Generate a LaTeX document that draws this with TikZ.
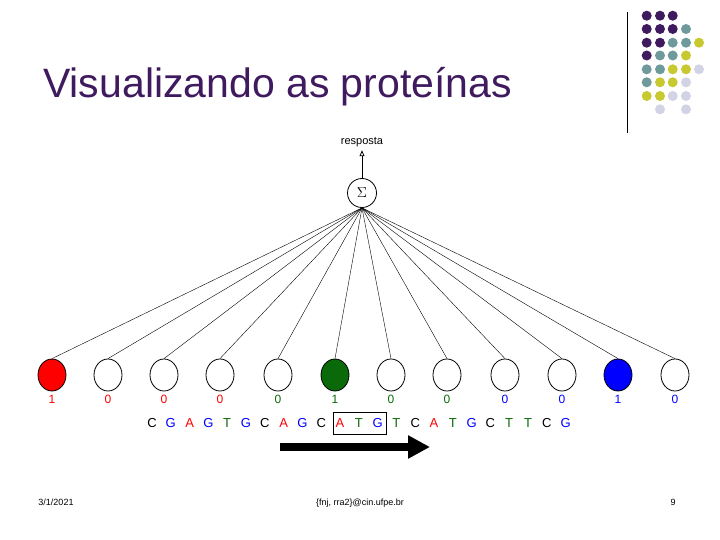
\documentclass[tikz,border=0pt]{standalone}
\usepackage{fontspec}
\setmainfont{Liberation Sans}
\usetikzlibrary{arrows.meta,shapes.geometric}
\definecolor{pP}{HTML}{3F1A5E}
\definecolor{pT}{HTML}{6F9A9C}
\definecolor{pY}{HTML}{C8C830}
\definecolor{pL}{HTML}{D3D3E6}
\definecolor{dgreen}{HTML}{0A6A0A}
\begin{document}
\begin{tikzpicture}[x=1pt,y=-1pt,
  dot/.style={circle,inner sep=0pt,minimum size=10pt},
  unit/.style={ellipse,draw,thick,inner sep=0pt,minimum width=28pt,minimum height=32pt},
  lab/.style={font=\fontsize{12}{12}\selectfont},
  seq/.style={font=\fontsize{13}{13}\selectfont},
  foot/.style={font=\fontsize{9}{9}\selectfont,anchor=base}]
\useasboundingbox (0,0) rectangle (720,540);
\fill[white] (0,0) rectangle (720,540);
% logo
\draw[thick] (627,12) -- (627,133);
\def\cols{{646.7,660,672.7,686,699}}
\def\rows{{15.7,29,42.7,55.5,69.3,82.3,96,109.3}}
\foreach \r/\list in {0/{pP,pP,pP},1/{pP,pP,pP,pT},2/{pP,pP,pT,pT,pY},3/{pP,pT,pT,pY},4/{pT,pT,pY,pY,pL},5/{pT,pY,pY,pL},6/{pY,pY,pL,pL},7/{white,pL,white,pL}}{
  \foreach \c [count=\i from 0] in \list {
    \node[dot,fill=\c] (d\r-\i) at ({\cols[\i]},{\rows[\r]}) {};
  }
}
\node[anchor=west,text=pP,font=\fontsize{41}{41}\selectfont,inner sep=0pt] (title) at (43,87) {Visualizando as proteínas};
% network
\node[circle,draw,thick,minimum size=29pt,inner sep=0pt,font=\fontsize{15}{15}\selectfont] (sig) at (362,193) {$\Sigma$};
\node[font=\fontsize{11}{11}\selectfont] (resp) at (362,142) {resposta};
\draw[thick,-{Triangle[open,length=6pt,width=5pt]}] (sig.north) -- (resp.south);
\foreach \x/\f/\v/\vc [count=\i] in {52/red/1/red,108/white/0/red,164/white/0/red,220/white/0/red,278/white/0/dgreen,335/dgreen/1/dgreen,391/white/0/dgreen,447/white/0/dgreen,505/white/0/blue,562/white/0/blue,618/blue/1/blue,675/white/0/blue}{
  \node[unit,fill=\f] (u\i) at (\x,375) {};
  \node[lab,text=\vc] (v\i) at (\x,399) {\v};
  \draw (sig.south) -- (u\i.north);
}
\foreach \l/\c [count=\i from 0] in {C/black,G/blue,A/red,G/blue,T/dgreen,G/blue,C/black,A/red,G/blue,C/black,A/red,T/dgreen,G/blue,T/dgreen,C/black,A/red,T/dgreen,G/blue,C/black,T/dgreen,T/dgreen,C/black,G/blue}{
  \node[seq,text=\c] (s\i) at ({152+\i*18.8},423) {\l};
}
\draw[thick] (333,412) rectangle (386,434);
\coordinate (a1) at (280,447);
\coordinate (a2) at (430,447);
\draw[line width=8pt,-{Triangle[length=22pt,width=22pt]}] (a1) -- (a2);
\node[foot] (f1) at (56,505) {3/1/2021};
\node[foot] (f2) at (360,505) {\{fnj, rra2\}@cin.ufpe.br};
\node[foot] (f3) at (673,505) {9};
\end{tikzpicture}
\end{document}
